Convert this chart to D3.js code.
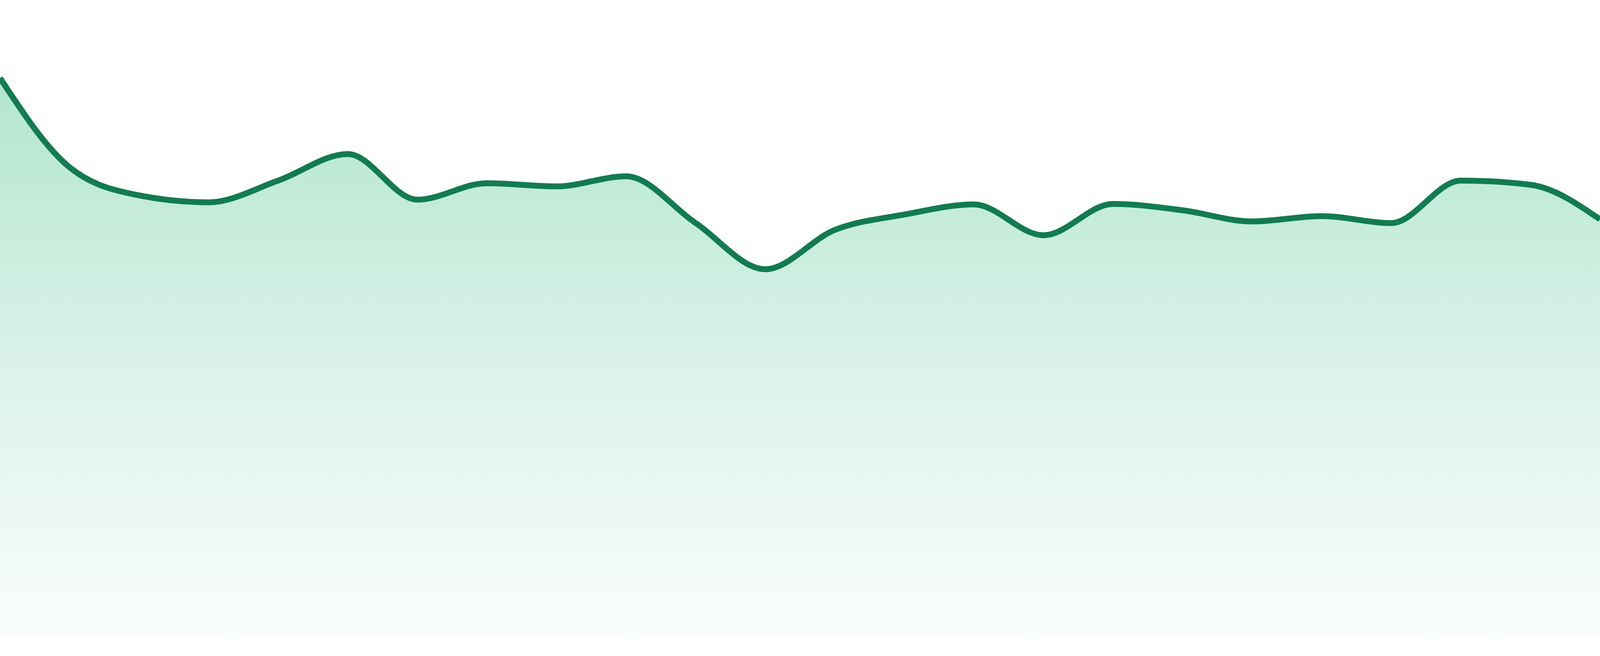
<!DOCTYPE html>
<html>
<head>
<meta charset="utf-8">
<script src="https://cdn.jsdelivr.net/npm/d3@7"></script>
<style>
  html, body { margin: 0; padding: 0; background: #fff; overflow: hidden; }
  svg { display: block; }
</style>
</head>
<body>
<div id="chart"></div>
<script>
// one value per step
var steps = d3.range(24);
var values = [105.3, 88.5, 83.2, 81.9, 86.0, 91.0, 82.4, 85.5, 84.9, 86.8, 78.0, 69.3,
              76.7, 79.6, 81.5, 75.7, 81.6, 80.4, 78.3, 79.3, 78.0, 86.0, 85.2, 78.7];
var yDomain = [0, 120];

// the window may be narrower than 4800, so size everything off it
var width = window.innerWidth || 4800;
var height = window.innerHeight || 1680;
var k = height / 1680;
var margin = { top: 0, right: 0, bottom: 48 * k, left: 0 };

var svg = d3.select('#chart')
  .append('svg')
  .attr('width', width)
  .attr('height', height);

var x = d3.scaleLinear()
  .domain(d3.extent(steps))
  .range([margin.left, width - margin.right]);

var y = d3.scaleLinear()
  .domain(yDomain)
  .range([height - margin.bottom, margin.top]);

var data = steps.map(function (s, i) { return { s: s, v: values[i] }; });

var grad = svg.append('defs')
  .append('linearGradient')
  .attr('id', 'fillGrad')
  .attr('gradientUnits', 'userSpaceOnUse')
  .attr('x1', 0).attr('x2', 0)
  .attr('y1', y(d3.max(values)))
  .attr('y2', y(0));

grad.append('stop').attr('offset', '0%').attr('stop-color', '#b2e6cf');
grad.append('stop').attr('offset', '50%').attr('stop-color', '#d9f2e8');
grad.append('stop').attr('offset', '100%').attr('stop-color', '#fafdfc');

var area = d3.area()
  .x(function (d) { return x(d.s); })
  .y0(y(0))
  .y1(function (d) { return y(d.v); })
  .curve(d3.curveMonotoneX);

var line = d3.line()
  .x(function (d) { return x(d.s); })
  .y(function (d) { return y(d.v); })
  .curve(d3.curveMonotoneX);

svg.append('path')
  .datum(data)
  .attr('d', area)
  .attr('fill', 'url(#fillGrad)');

svg.append('path')
  .datum(data)
  .attr('d', line)
  .attr('fill', 'none')
  .attr('stroke', '#127b52')
  .attr('stroke-width', 15 * k)
  .attr('stroke-linejoin', 'round');
</script>
</body>
</html>
